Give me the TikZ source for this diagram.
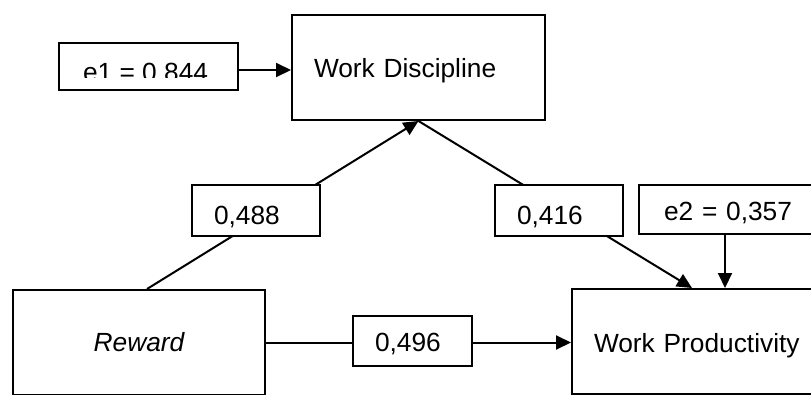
\documentclass[tikz,border=0pt]{standalone}
\usepackage{fontspec}
\setmainfont{Liberation Sans}
\usetikzlibrary{arrows.meta,calc,backgrounds}
\begin{document}
\begin{tikzpicture}[x=1pt,y=-1pt,line width=2pt,
  box/.style={draw,line width=2pt,fill=white,inner xsep=22pt,inner ysep=0pt,align=left,
    text depth=0pt,font=\fontsize{26.3}{30}\selectfont},
  link/.style={line width=2pt,-{Triangle[length=15pt,width=14pt]}}]
\clip (0,0) rectangle (811,394);
% main boxes
\node[box,text width=209pt,minimum height=105pt,text height=19pt] (wd) at (418.5,67.5) {Work Discipline};
\node[box,align=center,text width=208pt,minimum height=105pt,text height=18.4pt,font=\fontsize{26.3}{30}\selectfont\itshape] (reward) at (139,342.5) {Reward};
\node[box,text width=209pt,minimum height=105pt,text height=22.4pt] (wp) at (698.5,341.5) {Work Productivity};
% error boxes
\node[draw,line width=2pt,fill=white,minimum width=179pt,minimum height=47pt,inner sep=0pt] (e1) at (148.5,66.5) {};
\begin{scope}
  \clip (59,43) rectangle (238,77.3);
  \node[anchor=base west,inner sep=0pt,font=\fontsize{26.3}{30}\selectfont] (e1text) at (82,81.5) {e1 = 0.844};
\end{scope}
\node[box,inner xsep=25pt,text width=150pt,minimum height=49pt,text height=21pt] (e2) at (739,209.5) {e2 = 0,357};
% coefficient boxes
\node[box,text width=84pt,minimum height=51pt,text height=27pt] (b488) at (256,210.5) {0,488};
\node[box,text width=84pt,minimum height=51pt,text height=27pt] (b416) at (559,210.5) {0,416};
\node[box,text width=75pt,minimum height=50pt,text height=21.4pt] (b496) at (412.5,341) {0,496};
% connectors
\coordinate (rtop) at ($(reward.north west)+(135,0)$);
\coordinate (wptop) at ($(wp.north west)+(121,0)$);
\coordinate (e2out) at ($(e2.south west)+(87,0)$);
\begin{scope}[on background layer]
  \draw[link] (rtop) -- (wd.south);
  \draw[link] (wd.south) -- (wptop);
  \draw[link] (reward.east) -- (reward.east -| wp.west);
\end{scope}
\draw[link] ([yshift=-3.5pt]e1.east) -- ([yshift=-3.5pt]e1.east -| wd.west);
\draw[link] (e2out) -- (e2out |- wp.north);
\end{tikzpicture}
\end{document}
